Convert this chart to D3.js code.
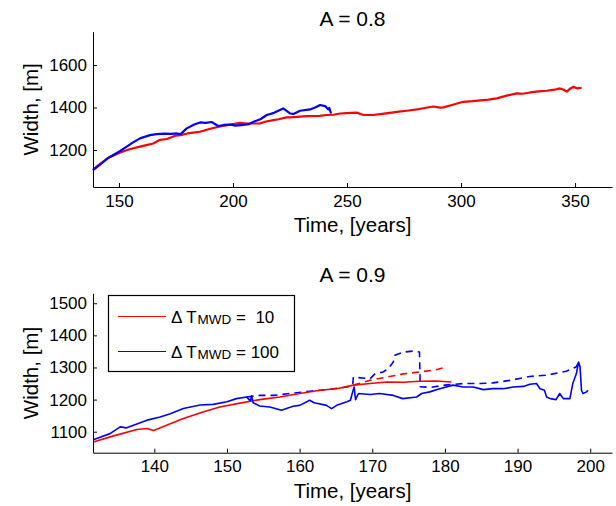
<!DOCTYPE html>
<html><head><meta charset="utf-8">
<script src="https://cdn.jsdelivr.net/npm/d3@7"></script>
<style>body{margin:0;background:#fff}svg{display:block}text{font-family:"Liberation Sans",Arial,Helvetica,sans-serif;fill:#000}</style>
</head><body>
<script>
// ---------- data ----------
const titleTop = "A = 0.8";
const titleBottom = "A = 0.9";
const xLabel = "Time, [years]";
const yLabel = "Width, [m]";
const xTicksTop = [150, 200, 250, 300, 350];
const yTicksTop = [1200, 1400, 1600];
const xTicksBottom = [140, 150, 160, 170, 180, 190, 200];
const yTicksBottom = [1100, 1200, 1300, 1400, 1500];
const legendLabels = [["Δ T", "MWD", " =  10"], ["Δ T", "MWD", " = 100"]];

// A = 0.8, ΔT_MWD = 10 (red)
const topRed = [[138.6,1106],[140.7,1127],[145,1161],[149.5,1184],[152,1194],[155,1205],[159.2,1216],[162,1223],[165,1231],[168,1248],[171,1252],[175,1268],[177,1270],[180,1278],[185.5,1286],[190,1300],[192.8,1307],[195,1312],[200,1322],[203,1328],[206,1325],[211.8,1325],[214,1333],[217.7,1341],[220,1345],[223.5,1354],[225,1354],[232.3,1360],[238,1361],[241.1,1365],[244,1366],[247,1372],[250,1374],[254.2,1376],[257.2,1365],[261.5,1365],[264.5,1369],[268,1374],[271.8,1380],[277,1386],[280.6,1391],[284,1398],[287.9,1405],[290.8,1400],[292.3,1401],[296,1412],[301,1427],[305,1430],[309.8,1435],[312,1437],[315.7,1443],[320,1456],[324.4,1467],[327,1465],[330.3,1471],[334,1476],[337.6,1479],[341,1484],[343.4,1490],[345,1484],[346.4,1475],[348,1490],[349.3,1498],[351,1490],[352.9,1493]];
// A = 0.8, ΔT_MWD = 100 (blue)
const topBlue = [[138.6,1106],[141,1125],[145,1161],[150,1192],[153.4,1216],[156,1235],[159.2,1255],[163.6,1270],[166.5,1275],[170,1277],[173,1276],[175.3,1278],[177,1275],[179.7,1302],[183,1320],[185.5,1330],[188,1328],[190.6,1332],[193.5,1313],[196,1318],[198.6,1320],[201,1315],[204.5,1318],[207,1322],[209,1333],[212,1345],[214.8,1365],[218,1375],[222,1396],[225,1372],[226.5,1370],[229.4,1385],[233.8,1391],[236,1400],[238.2,1412],[240.4,1407],[241.8,1391],[242.2,1398],[243,1372]];

// A = 0.9
const botRed = [[131.6,1068],[134.4,1087],[137.6,1107],[139,1110],[139.9,1104],[142.2,1125],[144,1141],[146.7,1161],[149,1177],[151.8,1189],[154.5,1200],[157.3,1208],[160,1219],[162.8,1229],[165.1,1234],[167.4,1245],[169.7,1250],[172,1255],[174.3,1254],[176.5,1257],[178.8,1258],[180.9,1255]];
const botRedDash = [[167.4,1245],[169.7,1260],[172,1270],[174.3,1280],[176.5,1286],[178.8,1293],[180.3,1302]];
const botBlue = [[131.6,1075],[133.9,1094],[135.3,1115],[136.2,1112],[139,1136],[140.8,1146],[142.2,1156],[144,1172],[146.3,1183],[148.1,1185],[150,1193],[151.3,1203],[152.7,1208],[153.2,1196],[153.4,1212],[153.6,1190],[154.5,1180],[155.9,1177],[157.5,1167],[159.1,1179],[160,1182],[161.4,1198],[162,1190],[163.7,1182],[164.4,1172],[165.1,1182],[166.5,1193],[167,1198],[167.3,1224],[167.5,1239],[167.7,1200],[168.1,1219],[169.7,1216],[171,1219],[172.9,1213],[174.2,1203],[176.1,1208],[176.8,1219],[177.9,1224],[179.3,1234],[181.1,1245],[182.5,1239],[183.9,1239],[185.3,1231],[186.6,1234],[188,1234],[189.4,1239],[190.8,1241],[191.7,1248],[192.6,1250],[193.1,1234],[193.7,1229],[194,1208],[194.5,1203],[195.3,1200],[195.8,1219],[196.3,1203],[197.2,1203],[197.6,1250],[198.1,1281],[198.4,1317],[198.6,1302],[198.8,1229],[199,1219],[199.5,1224],[199.7,1229]];
const botBlueDash = [[152.7,1208],[154.5,1213],[156.4,1213],[158.7,1219],[161.4,1226],[163.7,1231],[166.5,1239],[167.3,1245],[167.4,1270],[169.7,1265],[170.4,1281],[171.5,1286],[172.2,1297],[172.9,1317],[173.1,1338],[174.3,1348],[175.6,1351],[176.5,1348],[176.6,1240],[178,1238],[180,1245],[182.5,1250],[184.8,1250],[186.6,1252],[189,1260],[191.7,1272],[194,1276],[196.7,1288],[198.1,1302],[198.4,1317]];

// ---------- drawing ----------
const W = 616, H = 506;
const svg = d3.select("body").append("svg").attr("width", W).attr("height", H);

function panel(cfg) {
  const x = d3.scaleLinear().domain(cfg.xDomain).range([93, 612]);
  const y = d3.scaleLinear().domain(cfg.yDomain).range([cfg.bottom, cfg.top]);
  const g = svg.append("g");
  const line = d3.line().x(d => x(d[0])).y(d => y(d[1]));
  cfg.series.forEach(s => {
    g.append("path").attr("d", line(s.data)).attr("fill", "none")
      .attr("stroke", s.color).attr("stroke-width", s.width)
      .attr("stroke-linejoin", "round")
      .attr("stroke-dasharray", s.dash || null);
  });
  const xa = g.append("g").attr("transform", `translate(0,${cfg.bottom})`)
    .call(d3.axisBottom(x).tickValues(cfg.xTicks).tickSizeInner(-4).tickSizeOuter(0).tickPadding(8).tickFormat(d3.format("d")));
  const ya = g.append("g").attr("transform", "translate(93,0)")
    .call(d3.axisLeft(y).tickValues(cfg.yTicks).tickSizeInner(-4).tickSizeOuter(0).tickPadding(6).tickFormat(d3.format("d")));
  [xa, ya].forEach(a => {
    a.select(".domain").attr("stroke", "#000").attr("stroke-width", 1);
    a.selectAll(".tick line").attr("stroke", "#000");
    a.selectAll(".tick text").attr("font-size", 17).attr("font-family", '"Liberation Sans",Arial,sans-serif').attr("fill", "#000");
  });
  xa.selectAll(".tick text").attr("dy", "0.68em");
  g.append("text").attr("x", 352.5).attr("y", cfg.titleY).attr("text-anchor", "middle")
    .attr("font-size", 21).text(cfg.title);
  g.append("text").attr("x", 352.5).attr("y", cfg.bottom + 45).attr("text-anchor", "middle")
    .attr("font-size", 20.5).text(xLabel);
  g.append("text").attr("transform", `translate(38,${(cfg.top + cfg.bottom) / 2}) rotate(-90)`)
    .attr("text-anchor", "middle").attr("font-size", 20.5).text(yLabel);
  return { x, y, g };
}

panel({ xDomain: [138.6, 366.2], yDomain: [1026, 1757], top: 31.7, bottom: 187,
  xTicks: xTicksTop, yTicks: yTicksTop, title: titleTop, titleY: 25.5,
  series: [{ data: topRed, color: "#ff0000", width: 2.2 }, { data: topBlue, color: "#0000ff", width: 2.2 }] });

panel({ xDomain: [131.56, 203.0], yDomain: [1034.6, 1531], top: 293.3, bottom: 452.7,
  xTicks: xTicksBottom, yTicks: yTicksBottom, title: titleBottom, titleY: 281.5,
  series: [
    { data: botRedDash, color: "#ff0000", width: 1.6, dash: "7,5" },
    { data: botBlueDash, color: "#0000ff", width: 1.6, dash: "7,5" },
    { data: botRed, color: "#ff0000", width: 1.6 },
    { data: botBlue, color: "#0000ff", width: 1.6 }
  ] });

// legend
const lg = svg.append("g");
lg.append("rect").attr("x", 108.5).attr("y", 295.5).attr("width", 186).attr("height", 76)
  .attr("fill", "#fff").attr("stroke", "#000").attr("stroke-width", 1.2);
const legColors = ["#ff0000", "#0000ff"];
legendLabels.forEach((lab, i) => {
  const yy = 316.5 + i * 35;
  lg.append("line").attr("x1", 118).attr("x2", 166).attr("y1", yy).attr("y2", yy)
    .attr("stroke", legColors[i]).attr("stroke-width", 1.2);
  const t = lg.append("text").attr("x", 171).attr("y", yy + 6).attr("font-size", 17)
    .attr("xml:space", "preserve");
  t.append("tspan").text(lab[0]);
  t.append("tspan").attr("font-size", 13.5).attr("dx", 1).attr("dy", 1).text(lab[1]);
  t.append("tspan").attr("dy", -1).text(lab[2]);
});
</script>
</body></html>
